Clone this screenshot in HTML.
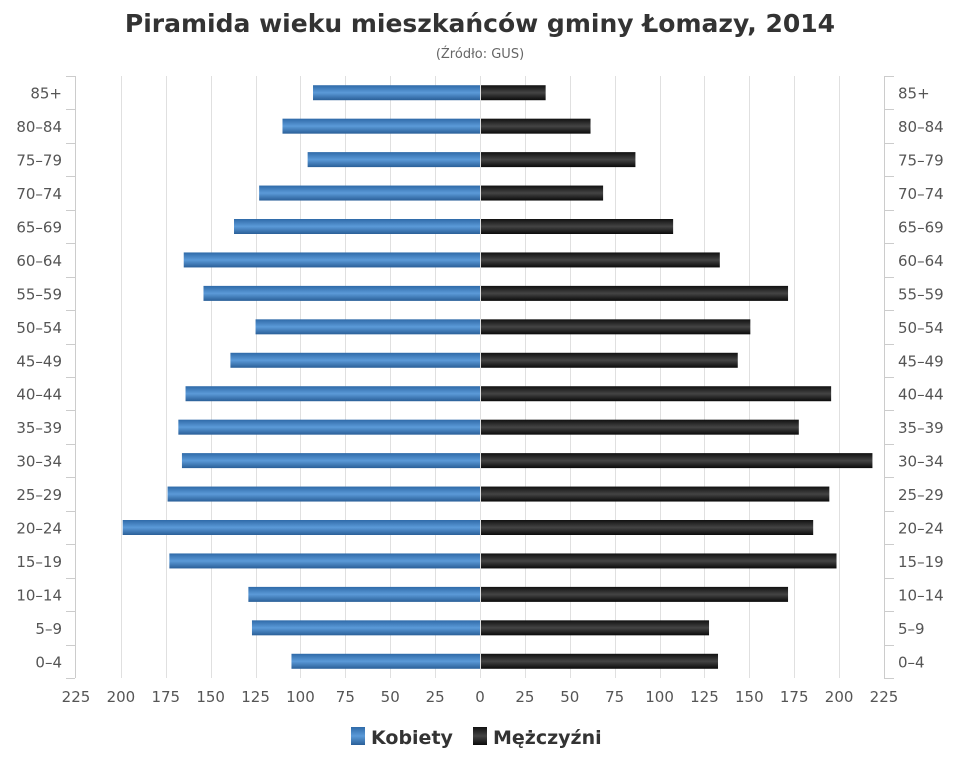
<!DOCTYPE html>
<html><head><meta charset="utf-8"><style>body{margin:0;background:#fff}svg{display:block}</style></head><body>
<svg width="960" height="768" xmlns="http://www.w3.org/2000/svg" font-family="'DejaVu Sans', 'Liberation Sans', sans-serif">
<defs>
<linearGradient id="b" x1="0" y1="0" x2="0" y2="1"><stop offset="0" stop-color="#2f6aa8"/><stop offset="0.5" stop-color="#5b9ad8"/><stop offset="1" stop-color="#2a5f98"/></linearGradient>
<linearGradient id="k" x1="0" y1="0" x2="0" y2="1"><stop offset="0" stop-color="#111"/><stop offset="0.5" stop-color="#444"/><stop offset="1" stop-color="#0a0a0a"/></linearGradient>
</defs>
<text x="480" y="32" text-anchor="middle" font-size="25" font-weight="bold" fill="#333">Piramida wieku mieszkańców gminy Łomazy, 2014</text>
<text x="480" y="58" text-anchor="middle" font-size="13" fill="#666">(Źródło: GUS)</text>
<g id="g" stroke="#e0e0e0" stroke-width="1"></g>
<g id="bars"></g>
<g id="lab" font-size="15" fill="#555"></g>
<line x1="75.5" y1="76" x2="75.5" y2="678" stroke="#ccc"/>
<line x1="884.5" y1="76" x2="884.5" y2="678" stroke="#ccc"/>
<g id="tk" stroke="#ccc"></g>
<rect x="351" y="727" width="14" height="18" fill="url(#b)"/>
<text x="371" y="744" font-size="19" font-weight="bold" fill="#333">Kobiety</text>
<rect x="473" y="727" width="14" height="18" fill="url(#k)"/>
<text x="493" y="744" font-size="19" font-weight="bold" fill="#333">Mężczyźni</text>
<script>
var ns="http://www.w3.org/2000/svg";
function el(p,t,a,txt){var e=document.createElementNS(ns,t);for(var k in a)e.setAttribute(k,a[k]);if(txt)e.textContent=txt;document.getElementById(p).appendChild(e);}
var s=404/225;
for(var v=-225;v<=225;v+=25){var x=Math.round(480+v*s)+0.5;if(Math.abs(v)<225)el("g","line",{x1:x,y1:76,x2:x,y2:678});
el("lab","text",{x:480+v*s,y:702,"text-anchor":"middle"},String(Math.abs(v)));}
var cats=["85+","80-84","75-79","70-74","65-69","60-64","55-59","50-54","45-49","40-44","35-39","30-34","25-29","20-24","15-19","10-14","5-9","0-4"];
var w=[93,110,96,123,137,165,154,125,139,164,168,166,174,199,173,129,127,105];
var m=[36,61,86,68,107,133,171,150,143,195,177,218,194,185,198,171,127,132];
var h=(678-76)/18;
for(var i=0;i<18;i++){var c=76+h*(i+0.5);
el("bars","rect",{x:480-w[i]*s,y:c-7.5,width:w[i]*s,height:15,fill:"url(#b)"});
el("bars","rect",{x:481,y:c-7.5,width:m[i]*s,height:15,fill:"url(#k)"});
el("lab","text",{x:62,y:c+6,"text-anchor":"end"},cats[i].replace("-","–"));
el("lab","text",{x:898,y:c+6},cats[i].replace("-","–"));}
for(var i=0;i<=18;i++){var y=Math.round(76+h*i)+0.5;el("tk","line",{x1:66,y1:y,x2:75,y2:y});el("tk","line",{x1:884,y1:y,x2:894,y2:y});}
</script>
</svg>
</body></html>
